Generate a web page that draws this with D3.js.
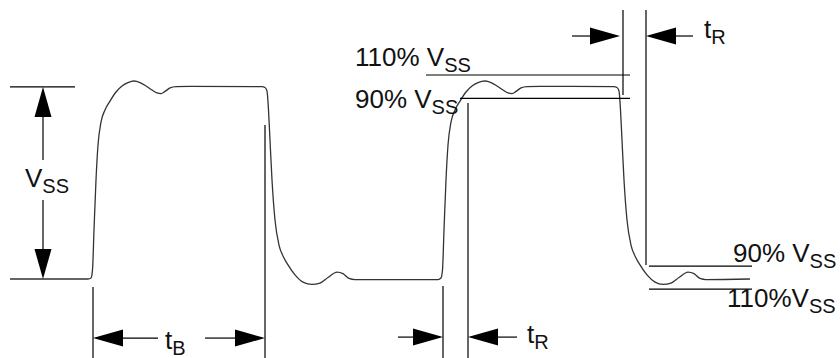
<!DOCTYPE html>
<html>
<head>
<meta charset="utf-8">
<script src="https://cdn.jsdelivr.net/npm/d3@7"></script>
<style>
  html, body { margin: 0; padding: 0; background: #fff; }
  svg { display: block; }
</style>
</head>
<body>
<script>
// ---- DATA (time in arbitrary units, voltage in % of VSS) ----
const waveT = [1.0, 8.8, 9.1, 9.25, 9.4, 9.6, 9.8, 10.1, 10.5, 11.0, 11.6, 12.2, 12.8, 13.4, 14.0, 14.6, 15.2, 15.7, 16.1, 16.5, 17.0, 17.6, 19.0, 26.2, 26.5, 26.7, 26.85, 27.0, 27.2, 27.5, 27.9, 28.3, 28.8, 29.5, 30.3, 31.2, 32.0, 32.8, 33.7, 34.3, 34.9, 35.5, 43.8,
  44.1, 44.25, 44.4, 44.6, 44.8, 45.1, 45.5, 46.0, 46.6, 47.2, 47.8, 48.5, 49.1, 49.7, 50.3, 50.8, 51.2, 51.6, 52.1, 52.7, 54.0, 61.4, 61.7, 61.9, 62.05, 62.2, 62.4, 62.7, 63.1, 63.5, 64.0, 64.7, 65.5, 66.3, 67.1, 67.9, 68.8, 69.4, 70.0, 70.6, 75.0];
const waveV = [0, 0, 0.5, 4.7, 25.4, 51.3, 69.4, 81.3, 87.6, 92.2, 96.9, 100, 101.8, 102.6, 101.8, 100, 97.9, 96.4, 96.1, 97.2, 99.0, 99.7, 99.8, 99.7, 99.2, 97.4, 87.6, 72.0, 51.3, 30.6, 17.6, 11.9, 7.3, 2.1, -1.6, -2.8, -2.1, 0.8, 3.6, 2.8, 0.3, -0.3, -0.3,
  0.5, 4.7, 25.4, 51.3, 69.4, 81.3, 87.6, 92.2, 96.9, 100, 101.8, 102.6, 101.8, 100, 97.9, 96.4, 96.1, 97.2, 99.0, 99.7, 99.8, 99.7, 99.2, 97.4, 87.6, 72.0, 51.3, 30.6, 17.6, 11.9, 7.3, 2.1, -1.6, -2.8, -2.1, 0.8, 3.6, 2.8, 0.3, -0.3, 0];

// VSS reference level (top of left dimension)
const vssRefV = 99.5;
const vssRefT = [1.0, 7.5];

// Threshold level lines
const levelV  = [105.7, 93.6, 6.7, -5.2];
const levelT0 = [42.6, 46.0, 64.9, 64.9];
const levelT1 = [63.0, 63.0, 75.2, 75.2];

// Vertical timing marker lines
const markT  = [9.3, 26.5, 44.3, 46.8, 62.3, 64.6];
const markV0 = [-4.1, 79.8, -3.6, 91.2, 95.3, 7.3];
const markV1 = [-41.5, -41.5, -41.5, -41.5, 139.4, 139.4];

// Dimension arrows
const vssArrowT = 4.3;
const tbArrowV = -30.6;
const trLowV = -30.1;
const trHighV = 125.9;

// Labels
const labelMain = ["V", "110% V", "90% V", "90% V", "110%V", "t", "t", "t"];
const labelSub  = ["SS", "SS", "SS", "SS", "SS", "B", "R", "R"];
const labelT    = [2.5, 35.5, 35.5, 73.3, 72.7, 16.5, 52.7, 70.4];
const labelV    = [47.7, 110.4, 88.4, 8.8, -14.5, -36.3, -33.2, 124.9];

// ---- DRAWING ----
const W = 840, H = 358;
const svg = d3.select("body").append("svg").attr("width", W).attr("height", H);
const x = d3.scaleLinear().domain([0, 84]).range([0, 840]);
const y = d3.scaleLinear().domain([0, 100]).range([279, 86]);

const ink = "#000";
const lw = 1.2;

// waveform
const wave = waveT.map((t, i) => [t, waveV[i]]);
svg.append("path")
  .attr("d", d3.line().x(d => x(d[0])).y(d => y(d[1])).curve(d3.curveMonotoneX)(wave))
  .attr("fill", "none").attr("stroke", "#333").attr("stroke-width", 1.3);

// vss reference line
svg.append("line").attr("x1", x(vssRefT[0])).attr("x2", x(vssRefT[1]))
  .attr("y1", y(vssRefV)).attr("y2", y(vssRefV)).attr("stroke", ink).attr("stroke-width", lw);

// level lines
levelV.forEach((v, i) => {
  svg.append("line").attr("x1", x(levelT0[i])).attr("x2", x(levelT1[i]))
    .attr("y1", y(v)).attr("y2", y(v)).attr("stroke", ink).attr("stroke-width", lw);
});

// marker lines
markT.forEach((t, i) => {
  svg.append("line").attr("x1", x(t)).attr("x2", x(t))
    .attr("y1", y(markV0[i])).attr("y2", y(markV1[i])).attr("stroke", ink).attr("stroke-width", lw);
});

// arrow helpers
const AL = 30, AW = 8.5;
function head(px, py, dir) {
  let pts;
  if (dir === 'r') pts = [[px, py], [px - AL, py - AW], [px - AL, py + AW]];
  if (dir === 'l') pts = [[px, py], [px + AL, py - AW], [px + AL, py + AW]];
  if (dir === 'u') pts = [[px, py], [px - AW, py + AL], [px + AW, py + AL]];
  if (dir === 'd') pts = [[px, py], [px - AW, py - AL], [px + AW, py - AL]];
  svg.append("path").attr("d", "M" + pts.map(p => p.join(",")).join("L") + "Z").attr("fill", ink);
}
function seg(x1, y1, x2, y2) {
  svg.append("line").attr("x1", x1).attr("y1", y1).attr("x2", x2).attr("y2", y2)
    .attr("stroke", ink).attr("stroke-width", lw);
}

// VSS vertical arrow
{
  const ax = x(vssArrowT), yt = y(vssRefV), yb = y(0);
  head(ax, yt, 'u'); head(ax, yb, 'd');
  seg(ax, yt + AL, ax, 160);
  seg(ax, 200, ax, yb - AL);
}
// tB arrow
{
  const ay = y(tbArrowV), xl = x(markT[0]), xr = x(markT[1]);
  head(xl, ay, 'l'); head(xr, ay, 'r');
  seg(xl + AL, ay, 158, ay);
  seg(205, ay, xr - AL, ay);
}
// tR lower
{
  const ay = y(trLowV), xl = x(markT[2]), xr = x(markT[3]);
  head(xl, ay, 'r'); head(xr, ay, 'l');
  seg(xl - 45, ay, xl - AL, ay);
  seg(xr + AL, ay, xr + 49, ay);
}
// tR upper
{
  const ay = y(trHighV), xl = x(markT[4]) - 3, xr = x(markT[5]);
  head(xl, ay, 'r'); head(xr, ay, 'l');
  seg(xl - 48, ay, xl - AL, ay);
  seg(xr + AL, ay, xr + 47, ay);
}

// labels
labelMain.forEach((m, i) => {
  const t = svg.append("text").attr("x", x(labelT[i])).attr("y", y(labelV[i]))
    .attr("font-family", "'Liberation Sans', Arial, Helvetica, sans-serif")
    .attr("font-size", 26).attr("fill", "#111")
    .attr("xml:space", "preserve");
  t.append("tspan").text(m);
  t.append("tspan").attr("font-size", 20).attr("dy", 6).text(labelSub[i]);
});
</script>
</body>
</html>
